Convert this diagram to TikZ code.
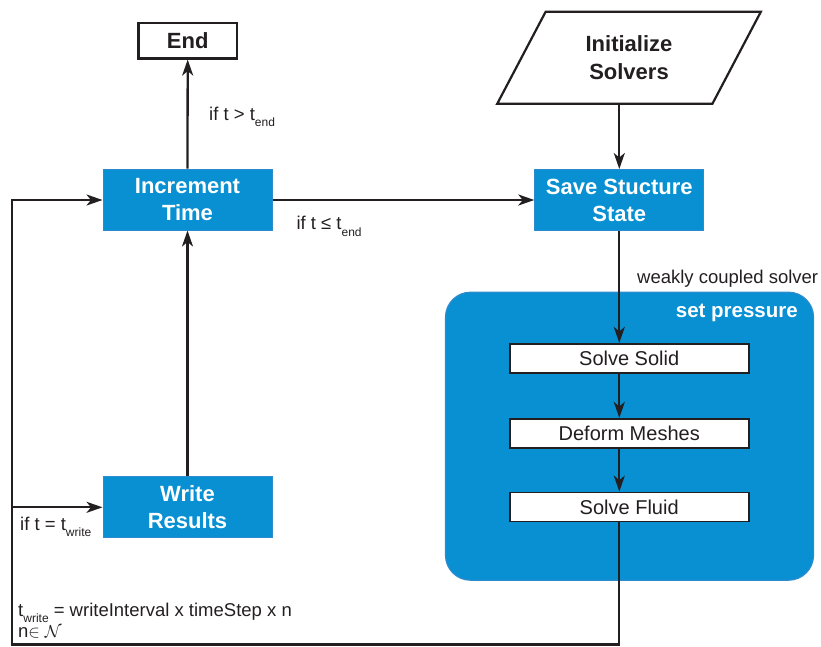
\documentclass[tikz,border=0pt]{standalone}
\usepackage{fontspec}
\setmainfont{Liberation Sans}
\usetikzlibrary{arrows.meta,shapes.geometric}

\definecolor{flowblue}{RGB}{8,144,210}
\definecolor{flowedge}{RGB}{45,140,205}
\definecolor{ink}{RGB}{35,31,32}

% lowered index as in t_end, t_write
\newcommand{\lowsub}[1]{\raisebox{-0.7ex}{\fontsize{12}{12}\selectfont #1}}

\tikzset{
	stepbox/.style={draw=flowedge,line width=1pt,fill=flowblue,text=white,
		font=\fontsize{22}{27}\selectfont\bfseries,align=center,
		minimum width=169pt,minimum height=61pt,inner sep=0pt},
	endbox/.style={draw=ink,line width=2.2pt,fill=white,text=ink,
		font=\fontsize{22}{26}\selectfont\bfseries,
		minimum width=98.5pt,minimum height=35.5pt,inner sep=0pt},
	inputbox/.style={trapezium,trapezium left angle=60,trapezium right angle=120,
		trapezium stretches=true,draw=ink,line width=2.2pt,fill=white,text=ink,
		font=\fontsize{22}{27.5}\selectfont\bfseries,align=center,
		minimum width=264pt,minimum height=92pt,inner sep=0pt},
	solvebox/.style={draw=ink,line width=1.8pt,fill=white,text=ink,
		font=\fontsize{20}{24}\selectfont,
		minimum width=239pt,minimum height=29pt,inner sep=0pt},
	groupbox/.style={draw=flowedge,line width=1.2pt,fill=flowblue,rounded corners=25pt,
		minimum width=368pt,minimum height=288pt,inner sep=0pt},
	cond/.style={text=ink,font=\fontsize{18.5}{21.3}\selectfont,inner sep=0pt},
	flow/.style={draw=ink,line width=2.3pt,->},
}

\begin{document}
\begin{tikzpicture}[x=1pt,y=-1pt,>={Stealth[length=16pt,width=11pt,inset=4.5pt]}]
	\useasboundingbox (0,0) rectangle (821,646);
	% coupled solver block
	\node[groupbox] (coupling) at (629.5,436.2) {};
	\node[cond,text=white,font=\fontsize{20.5}{24}\selectfont\bfseries,anchor=base east] (pressure) at (798,317.7) {set pressure};
	% main boxes
	\node[endbox] (finish) at (187.7,40.7) {End};
	\node[inputbox] (init) at (629,57.8) {Initialize\\Solvers};
	\node[stepbox] (inc) at (187.5,199.5) {Increment\\Time};
	\node[stepbox] (save) at (619.3,200) {Save Stucture\\State};
	\node[stepbox] (write) at (187.5,507.3) {Write\\Results};
	\node[solvebox] (solid) at (629.2,358.3) {Solve Solid};
	\node[solvebox] (deform) at (629.2,433.3) {Deform Meshes};
	\node[solvebox] (fluid) at (629.2,507) {Solve Fluid};
	% labels
	\node[cond,anchor=base west] (tover) at (209,120) {if t > t\lowsub{end}};
	\node[cond,anchor=base west] (tunder) at (296.3,229.3) {if t ≤ t\lowsub{end}};
	\node[cond,anchor=base west] (weak) at (637,283.3) {weakly coupled solver};
	\node[cond,anchor=base west] (twrite) at (20,530) {if t = t\lowsub{write}};
	\node[cond,anchor=base west,align=left] (interval) at (18,637.3) {t\lowsub{write} = writeInterval x timeStep x n\\n$\in\mathcal{N}$};
	% connectors
	\coordinate (loopfoot) at (619.3,644.6);
	\coordinate (loopcorner) at (12,644.6);
	\draw[flow] (inc.north) -- (finish.south);
	\draw[flow] (inc.east |- 0,200) -- (save.west |- 0,200);
	\draw[flow] (init.south -| save.north) -- (save.north);
	\draw[flow] (save.south) -- (save.south |- solid.north);
	\draw[flow] (solid.south -| save) -- (deform.north -| save);
	\draw[flow] (deform.south -| save) -- (fluid.north -| save);
	\draw[flow] (fluid.south -| save) -- (loopfoot) -- (loopcorner) -- (loopcorner |- 0,200) -- (inc.west |- 0,200);
	\draw[flow] (loopcorner |- write.west) -- (write.west);
	\draw[flow] (write.north) -- (inc.south);
\end{tikzpicture}
\end{document}
